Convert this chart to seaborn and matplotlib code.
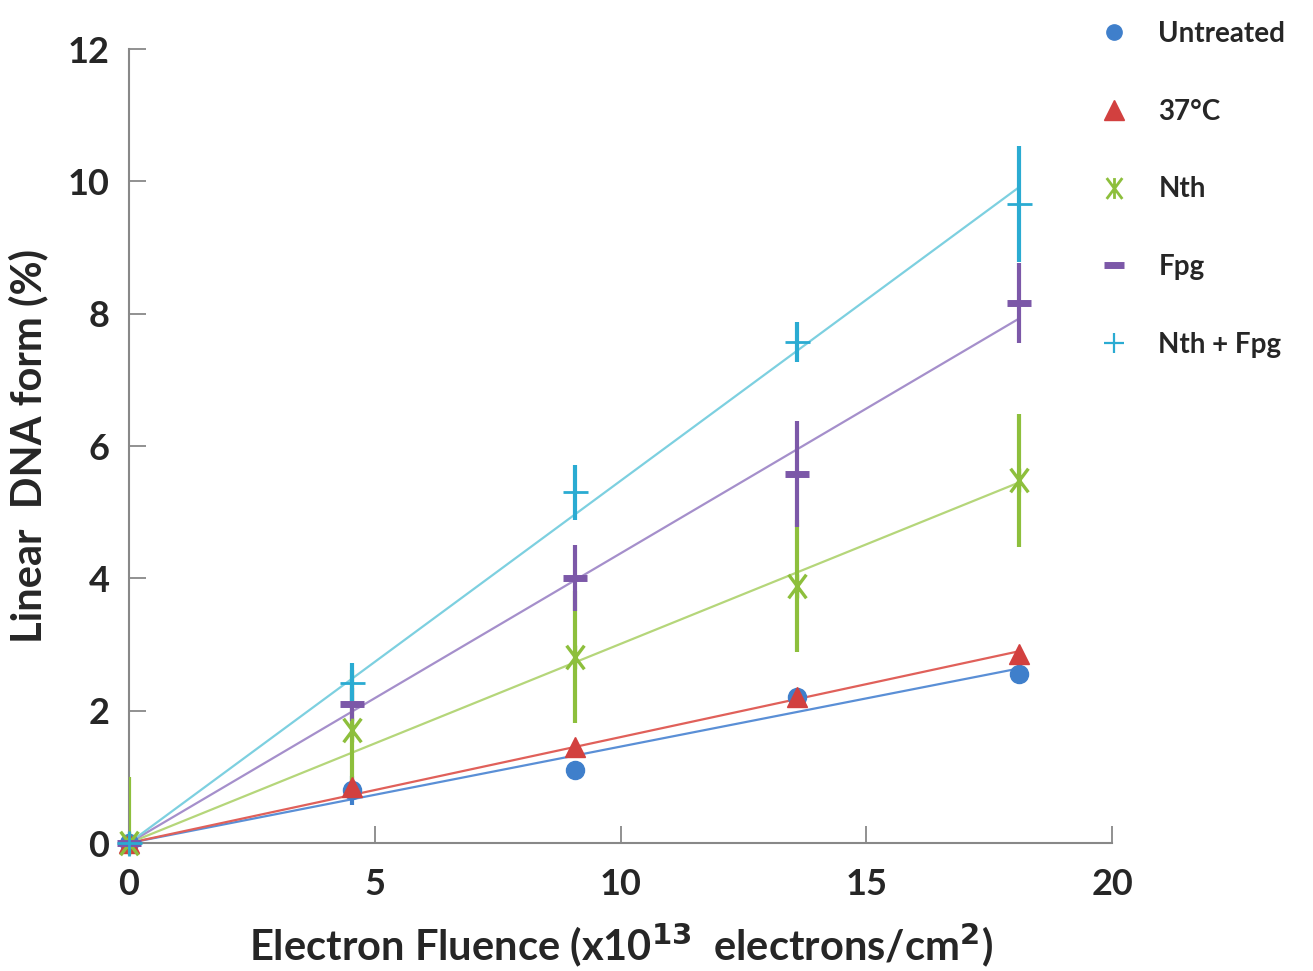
import numpy as np
import pandas as pd
import matplotlib
matplotlib.use("Agg")
import matplotlib.pyplot as plt
from matplotlib.path import Path
from matplotlib.lines import Line2D
import seaborn as sns

# ---- data ----
fluence = [0, 4.53, 9.07, 13.6, 18.1]
series_names = ["Untreated", "37°C", "Nth", "Fpg", "Nth + Fpg"]
untreated = [0, 0.80, 1.10, 2.20, 2.55]
untreated_err = [0, 0.22, 0.06, 0.06, 0.06]
c37 = [0, 0.85, 1.45, 2.20, 2.85]
c37_err = [0, 0.10, 0.05, 0.05, 0.05]
nth = [0, 1.71, 2.81, 3.88, 5.48]
nth_err = [1.0, 0.9, 1.0, 1.0, 1.0]
fpg = [0, 2.10, 4.00, 5.58, 8.16]
fpg_err = [0, 0.25, 0.50, 0.80, 0.60]
nthfpg = [0, 2.42, 5.30, 7.57, 9.66]
nthfpg_err = [0, 0.30, 0.42, 0.30, 0.88]
x_ticks = [0, 5, 10, 15, 20]
y_ticks = [0, 2, 4, 6, 8, 10, 12]

sns.set_theme(style="ticks")
plt.rcParams['font.family'] = ['Lato', 'DejaVu Sans']
plt.rcParams['font.weight'] = 'bold'

fig = plt.figure(figsize=(13.13, 9.71), dpi=100)
ax = fig.add_axes([0.0982, 0.1318, 0.7488, 0.8177])

star = Path([(-0.75, -1), (0.75, 1), (-0.75, 1), (0.75, -1), (0, -1), (0, 1)],
            [Path.MOVETO, Path.LINETO] * 3)

marker_cols = ["#3F7FCB", "#D2403F", "#8DBF3C", "#7C58A8", "#2AABD2"]
line_cols = ["#5A8FD6", "#E0605A", "#B5D67A", "#A58FCB", "#7DD0E0"]
markers = ["o", "^", star, "_", "+"]
msizes = [13, 15, 17, 17, 18]
mews = [1, 1, 2.4, 5, 2]
values = [untreated, c37, nth, fpg, nthfpg]
errors = [untreated_err, c37_err, nth_err, fpg_err, nthfpg_err]

x = np.array(fluence)
# trend lines: least-squares through origin
for name, vals, lc in zip(series_names, values, line_cols):
    y = np.array(vals)
    slope = np.sum(x * y) / np.sum(x * x)
    df = pd.DataFrame({"x": [x.min(), x.max()], "y": [0, slope * x.max()]})
    sns.lineplot(data=df, x="x", y="y", ax=ax, color=lc, lw=1.6, zorder=2)

for name, vals, err, mc in zip(series_names, values, errors, marker_cols):
    ax.errorbar(fluence, vals, yerr=err, fmt="none", ecolor=mc, elinewidth=3, capsize=0, zorder=3)

handles = []
leg_ms = [11, 15, 15, 15, 15]
for name, vals, mc, mk, ms, mew, lms in zip(series_names, values, marker_cols, markers, msizes, mews, leg_ms):
    filled = mk in ("o", "^")
    ax.plot(fluence, vals, ls="none", marker=mk, ms=ms,
            mfc=mc if filled else "none", mec=mc, mew=mew, zorder=4, clip_on=False)
    handles.append(Line2D([], [], ls="none", marker=mk, ms=lms,
                          mfc=mc if filled else "none", mec=mc,
                          mew=(1.6 if mk in ("+",) else (2.0 if mk is star else mew)),
                          label=name))

ax.set_xlim(0, 20)
ax.set_ylim(0, 12)
ax.set_xticks(x_ticks)
ax.set_yticks(y_ticks)
ax.tick_params(direction="in", length=12, width=1.3, color="#888888",
               labelsize=26, pad=14)
ax.tick_params(axis="x", pad=18)
for lab in ax.get_xticklabels() + ax.get_yticklabels():
    lab.set_fontweight("bold")
for s in ["top", "right"]:
    ax.spines[s].set_visible(False)
for s in ["left", "bottom"]:
    ax.spines[s].set_color("#888888")
    ax.spines[s].set_linewidth(1.5)

ax.set_xlabel("Electron Fluence (x10$^{13}$  electrons/cm$^{2}$)", fontsize=30,
              fontweight="bold", labelpad=14)
ax.set_ylabel("Linear  DNA form (%)", fontsize=30, fontweight="bold", labelpad=14)

fig.legend(handles=handles, loc="upper left", bbox_to_anchor=(0.8125, 1.004),
           frameon=False, labelspacing=1.86, handletextpad=0.8, handlelength=1.6,
           prop={"weight": "bold", "size": 20})

fig.savefig("out.png", dpi=100)
